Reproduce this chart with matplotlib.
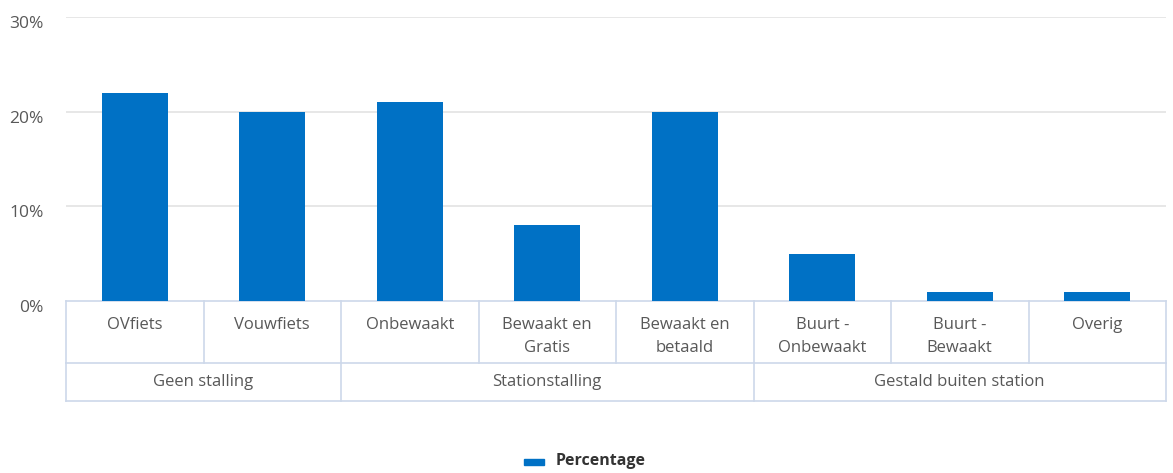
import matplotlib.pyplot as plt
from matplotlib.patches import Rectangle
from matplotlib.transforms import blended_transform_factory, ScaledTranslation

categories = ['OVfiets', 'Vouwfiets', 'Onbewaakt', 'Bewaakt en\nGratis', 'Bewaakt en\nbetaald',
              'Buurt -\nOnbewaakt', 'Buurt -\nBewaakt', 'Overig']
percentages = [22, 20, 21, 8, 20, 5, 1, 1]
groups = ['Geen stalling', 'Stationstalling', 'Gestald buiten station']
group_sizes = [2, 3, 3]
yticks = [0, 10, 20, 30]

BLUE = '#0071c5'
GRID = '#e3e3e3'
BORDER = '#cdd8ea'
TEXT = '#585858'

plt.rcParams['font.family'] = ['Open Sans', 'DejaVu Sans']

fig = plt.figure(figsize=(11.73, 4.73), dpi=100)
ax = fig.add_axes([66 / 1173, 172 / 473, 1100 / 1173, 284 / 473])

x = list(range(len(categories)))
ax.bar(x, percentages, width=0.48, color=BLUE, zorder=3)
ax.set_xlim(-0.5, len(categories) - 0.5)
ax.set_ylim(0, 30)
ax.set_yticks(yticks)
ax.set_yticklabels([f'{t}%' for t in yticks], color=TEXT, fontsize=12.5)
ax.tick_params(axis='y', length=0, pad=16)
shift = ScaledTranslation(0, -5 / 100, fig.dpi_scale_trans)
for lab in ax.get_yticklabels():
    lab.set_transform(lab.get_transform() + shift)
ax.set_xticks([])
for t in yticks[1:]:
    ax.axhline(t, color=GRID, lw=1.2, zorder=1)
for s in ax.spines.values():
    s.set_visible(False)

# table under the axis
tr = blended_transform_factory(ax.transData, ax.transAxes)
r1 = -62 / 284
r2 = -100 / 284
lkw = dict(color=BORDER, lw=1.2, transform=tr, clip_on=False)
left, right = -0.5, len(categories) - 0.5
for yy in [0, r1, r2]:
    ax.plot([left, right], [yy, yy], **lkw)
for i in range(len(categories) + 1):
    ax.plot([i - 0.5, i - 0.5], [0, r1], **lkw)
for i, lab in enumerate(categories):
    ax.text(i, -0.055, lab, transform=tr, ha='center', va='top', color=TEXT,
            fontsize=12, linespacing=1.6)
pos = -0.5
for g, n in zip(groups, group_sizes):
    ax.plot([pos, pos], [r1, r2], **lkw)
    ax.text(pos + n / 2, (r1 + r2) / 2, g, transform=tr, ha='center', va='center',
            color=TEXT, fontsize=12)
    pos += n
ax.plot([pos, pos], [r1, r2], **lkw)

# legend
fig.patches.append(Rectangle((524 / 1173, 8 / 473), 20 / 1173, 6 / 473,
                             transform=fig.transFigure, color=BLUE))
fig.text(556 / 1173, 12 / 473, 'Percentage', fontsize=11.5, fontweight='bold',
         color='#333333', va='center', ha='left')

fig.savefig('out.png', dpi=100)
